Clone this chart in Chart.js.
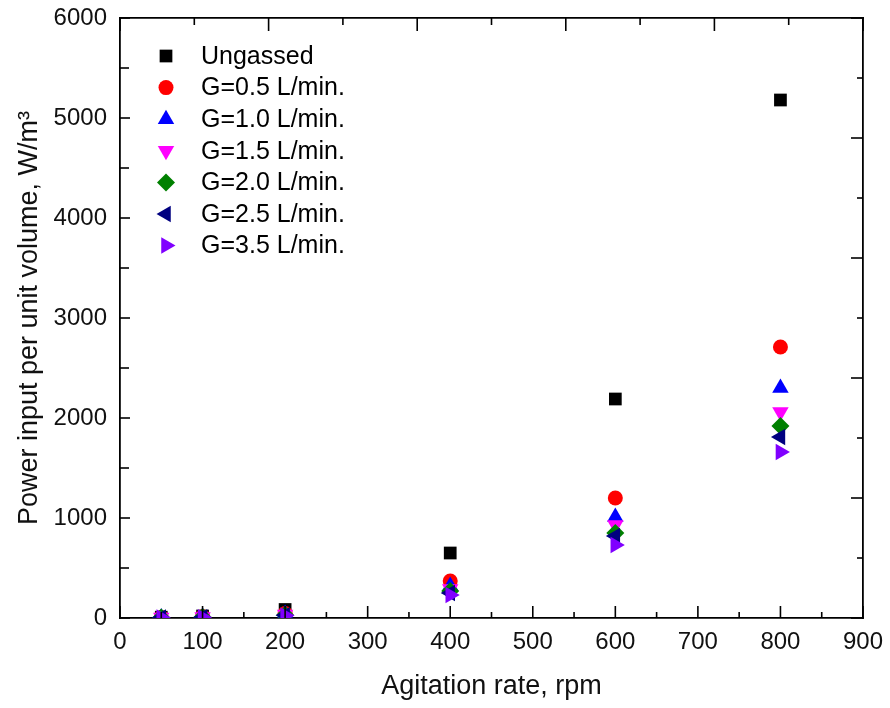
<!DOCTYPE html>
<html>
<head>
<meta charset="utf-8">
<script src="https://cdn.jsdelivr.net/npm/chart.js@4.4.0/dist/chart.umd.min.js"></script>
<style>
  html, body { margin: 0; padding: 0; background: #fff; }
  #wrap { width: 890px; height: 708px; }
</style>
</head>
<body>
<div id="wrap"><canvas id="power_chart" width="890" height="708"></canvas></div>
<script>
// agitation rate, rpm
const rpm = [50, 100, 200, 400, 600, 800];

// power input per unit volume, W/m3
const ungassed = [8, 20, 85, 650, 2190, 5180];
const g_05 = [6, 12, 45, 370, 1200, 2710];
const g_10 = [5, 12, 40, 320, 1010, 2300];
const g_15 = [5, 10, 35, 290, 930, 2060];
const g_20 = [5, 10, 30, 270, 850, 1920];
const g_25 = [4, 8, 28, 250, 820, 1810];
const g_35 = [4, 8, 25, 230, 730, 1660];

const series_labels = ["Ungassed", "G=0.5 L/min.", "G=1.0 L/min.", "G=1.5 L/min.",
                       "G=2.0 L/min.", "G=2.5 L/min.", "G=3.5 L/min."];
const series_values = [ungassed, g_05, g_10, g_15, g_20, g_25, g_35];
const series_colors = ["#000000", "#ff0000", "#0000ff", "#ff00ff", "#008000", "#000080", "#8000ff"];
const series_styles = ["rect", "circle", "triangle", "triangle", "rectRot", "triangle", "triangle"];
const series_rotation = [0, 0, 0, 180, 0, -90, 90];
const series_radius = [9, 7.5, 9.5, 9.5, 9, 9.5, 9.5];

const font_family = "'Liberation Sans', Arial, Helvetica, sans-serif";

const datasets = series_labels.map(function (label, i) {
  return {
    label: label,
    data: rpm.map(function (r, j) { return { x: r, y: series_values[i][j] }; }),
    backgroundColor: series_colors[i],
    borderColor: series_colors[i],
    borderWidth: 0,
    pointStyle: series_styles[i],
    pointRotation: series_rotation[i],
    pointRadius: series_radius[i],
    order: series_labels.length - i
  };
});

// inward ticks on all four sides, major every second tick
const tick_len = { x: [12, 6], x2: [13, 7], y: [10, 9], y2: [12, 6] };
const inward_ticks = {
  id: "inward_ticks",
  afterDraw(chart) {
    const ctx = chart.ctx;
    const area = chart.chartArea;
    ctx.save();
    ctx.strokeStyle = "#000";
    ctx.lineWidth = 1.6;
    ["x", "y", "x2", "y2"].forEach(function (id) {
      const scale = chart.scales[id];
      scale.ticks.forEach(function (t, i) {
        const len = tick_len[id][i % 2];
        const p = scale.getPixelForValue(t.value);
        ctx.beginPath();
        if (id === "x") { ctx.moveTo(p, area.bottom); ctx.lineTo(p, area.bottom - len); }
        if (id === "x2") { ctx.moveTo(p, area.top); ctx.lineTo(p, area.top + len); }
        if (id === "y") { ctx.moveTo(area.left, p); ctx.lineTo(area.left + len, p); }
        if (id === "y2") { ctx.moveTo(area.right, p); ctx.lineTo(area.right - len, p); }
        ctx.stroke();
      });
    });
    ctx.restore();
  }
};

// legend drawn inside the plot, upper left
const inside_legend = {
  id: "inside_legend",
  afterDraw(chart) {
    const ctx = chart.ctx;
    const area = chart.chartArea;
    ctx.save();
    ctx.font = "25px " + font_family;
    ctx.textBaseline = "middle";
    ctx.textAlign = "left";
    chart.data.datasets.forEach(function (ds, i) {
      const y = area.top + 38 + i * 31.6;
      ctx.fillStyle = ds.backgroundColor;
      Chart.helpers.drawPoint(ctx, {
        pointStyle: ds.pointStyle,
        rotation: ds.pointRotation,
        radius: ds.pointRadius,
        borderWidth: 0
      }, area.left + 46, y);
      ctx.fillStyle = "#000";
      ctx.fillText(ds.label, area.left + 81, y + 1);
    });
    ctx.restore();
  }
};

function no_pad(s) {
  s.paddingTop = 0; s.paddingBottom = 0; s.paddingLeft = 0; s.paddingRight = 0;
}

new Chart(document.getElementById("power_chart"), {
  type: "scatter",
  data: { datasets: datasets },
  options: {
    responsive: false,
    animation: false,
    events: [],
    layout: { padding: 0 },
    plugins: {
      legend: { display: false },
      tooltip: { enabled: false }
    },
    scales: {
      x: {
        type: "linear",
        position: "bottom",
        min: 0,
        max: 900,
        grid: { display: false },
        border: { display: true, color: "#000", width: 1.8 },
        ticks: {
          stepSize: 50,
          autoSkip: false,
          maxRotation: 0,
          padding: 2,
          color: "#111",
          font: { family: font_family, size: 24 },
          callback: function (v) { return v % 100 === 0 ? v : ""; }
        },
        title: {
          display: true,
          text: "Agitation rate, rpm",
          color: "#111",
          padding: { top: 0, bottom: 5 },
          font: { family: font_family, size: 27 }
        },
        afterFit: function (s) { s.height = 90; no_pad(s); }
      },
      y: {
        type: "linear",
        position: "left",
        min: 0,
        max: 6000,
        grid: { display: false },
        border: { display: true, color: "#000", width: 1.8 },
        ticks: {
          stepSize: 500,
          autoSkip: false,
          padding: 5,
          color: "#111",
          font: { family: font_family, size: 24 },
          callback: function (v) { return v % 1000 === 0 ? v : ""; }
        },
        title: {
          display: true,
          text: "Power input per unit volume, W/m³",
          color: "#111",
          padding: { top: 13, bottom: 0 },
          font: { family: font_family, size: 27 }
        },
        afterFit: function (s) { s.width = 120; no_pad(s); }
      },
      x2: {
        type: "linear",
        position: "top",
        min: 0,
        max: 900,
        grid: { display: false },
        border: { display: true, color: "#000", width: 1.8 },
        ticks: { display: false, stepSize: 90, autoSkip: false },
        afterFit: function (s) { s.height = 18; no_pad(s); }
      },
      y2: {
        type: "linear",
        position: "right",
        min: 0,
        max: 6000,
        grid: { display: false },
        border: { display: true, color: "#000", width: 1.8 },
        ticks: { display: false, stepSize: 600, autoSkip: false },
        afterFit: function (s) { s.width = 27; no_pad(s); }
      }
    }
  },
  plugins: [inward_ticks, inside_legend]
});
</script>
</body>
</html>
